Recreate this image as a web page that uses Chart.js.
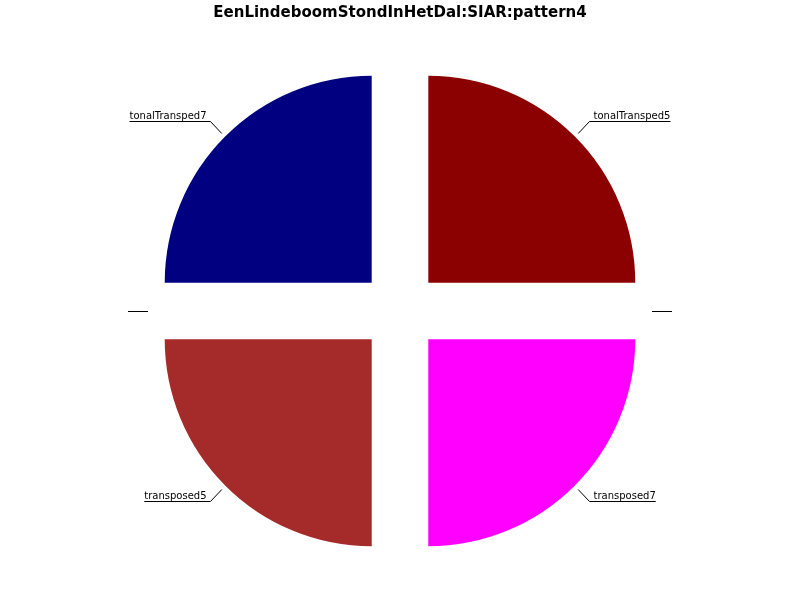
<!DOCTYPE html>
<html>
<head>
<meta charset="utf-8">
<script src="https://cdn.jsdelivr.net/npm/chart.js@4"></script>
<style>
  html, body { margin: 0; padding: 0; background: #fff; }
  #wrap { width: 800px; height: 600px; }
</style>
</head>
<body>
<div id="wrap"><canvas id="pieChart"></canvas></div>
<script>
// slices in drawing order, clockwise from 12 o'clock
const labels = ['tonalTransped5', '', 'transposed7', 'transposed5', '', 'tonalTransped7'];
const values = [1, 0, 1, 1, 0, 1];
const colors = ['#8B0000', '#000000', '#FF00FF', '#A52A2A', '#000000', '#000080'];

// chart.js moves an arc by offset / 4
const EXPLODE = 40;

const leaderLabels = {
    id: 'leaderLabels',
    afterDatasetsDraw(chart) {
        const ctx = chart.ctx;
        const meta = chart.getDatasetMeta(0);
        ctx.save();
        ctx.font = '10px "DejaVu Sans"';
        ctx.strokeStyle = '#000';
        ctx.fillStyle = '#000';
        ctx.lineWidth = 1;
        meta.data.forEach((arc, i) => {
            const p = arc.getProps(['x', 'y', 'startAngle', 'endAngle', 'outerRadius']);
            const off = (arc.options.offset || 0) / 4;
            const mid = (p.startAngle + p.endAngle) / 2;
            const cx = p.x + Math.cos(mid) * off;
            const cy = p.y + Math.sin(mid) * off;
            const r1 = p.outerRadius + 5, r2 = p.outerRadius + 21;
            // snap to half pixels so horizontal strokes stay crisp
            const x1 = cx + Math.cos(mid) * r1;
            const y1 = Math.round(cy + Math.sin(mid) * r1) + 0.5;
            const x2 = cx + Math.cos(mid) * r2;
            const y2 = Math.round(cy + Math.sin(mid) * r2) + 0.5;
            const right = Math.cos(mid) >= 0;
            const w = ctx.measureText(labels[i]).width + 4;
            const x3 = right ? x2 + w : x2 - w;
            ctx.beginPath();
            ctx.moveTo(x1, y1);
            ctx.lineTo(x2, y2);
            ctx.lineTo(x3, y2);
            ctx.stroke();
            ctx.textBaseline = 'alphabetic';
            ctx.textAlign = right ? 'right' : 'left';
            ctx.fillText(labels[i], x3, y2 - 3);
        });
        ctx.restore();
    }
};

const ctxPie = document.getElementById('pieChart').getContext('2d');
new Chart(ctxPie, {
    type: 'pie',
    data: {
        labels: labels,
        datasets: [{
            data: values,
            backgroundColor: colors,
            borderWidth: 0,
            offset: EXPLODE * 4
        }]
    },
    options: {
        responsive: true,
        maintainAspectRatio: false,
        animation: false,
        radius: 207,
        layout: { padding: { bottom: 10 } },
        plugins: {
            legend: { display: false },
            tooltip: { enabled: false },
            title: {
                display: true,
                text: 'EenLindeboomStondInHetDal:SIAR:pattern4',
                color: '#000',
                font: { family: '"DejaVu Sans"', size: 15, weight: 'bold' },
                padding: { top: 4, bottom: 10 }
            }
        }
    },
    plugins: [leaderLabels]
});
</script>
</body>
</html>
